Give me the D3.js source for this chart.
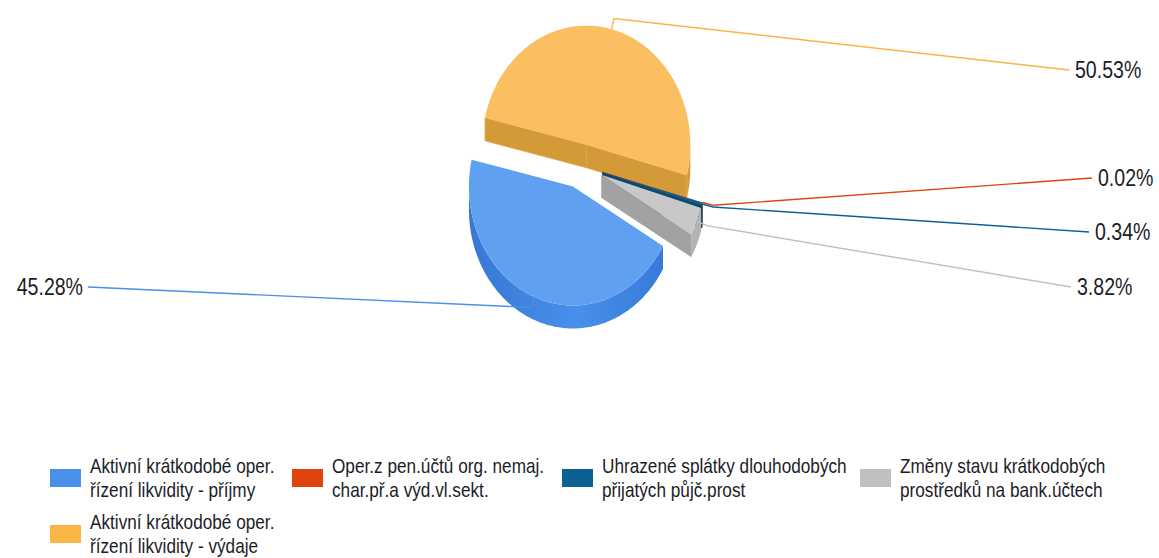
<!DOCTYPE html>
<html><head><meta charset="utf-8">
<script src="https://cdn.jsdelivr.net/npm/d3@7"></script>
<style>body{margin:0;background:#fff}svg{display:block}</style>
</head><body>
<svg id="chart" width="1159" height="558"></svg>
<script>
// ---- data ----
const categories = [
  "Aktivní krátkodobé oper. řízení likvidity - příjmy",
  "Aktivní krátkodobé oper. řízení likvidity - výdaje",
  "Oper.z pen.účtů org. nemaj. char.př.a výd.vl.sekt.",
  "Uhrazené splátky dlouhodobých přijatých půjč.prost",
  "Změny stavu krátkodobých prostředků na bank.účtech"
];
const legendLines = [
  ["Aktivní krátkodobé oper.", "řízení likvidity - příjmy"],
  ["Aktivní krátkodobé oper.", "řízení likvidity - výdaje"],
  ["Oper.z pen.účtů org. nemaj.", "char.př.a výd.vl.sekt."],
  ["Uhrazené splátky dlouhodobých", "přijatých půjč.prost"],
  ["Změny stavu krátkodobých", "prostředků na bank.účtech"]
];
const values = [45.28, 50.53, 0.02, 0.34, 3.82];
const valueLabels = ["45.28%", "50.53%", "0.02%", "0.34%", "3.82%"];
const legendColors = ["#4a8fe8", "#fbb446", "#e0440e", "#0b6192", "#c0c0c0"];
const topColors    = ["#60a0f0", "#fbbe60", "#e0440e", "#0b6192", "#c8c8c8"];
const wallColors   = ["#3c82de", "#d59a38", "#b83608", "#084a72", "#a2a2a2"];
const outerColors  = ["#3c82de", "#d59a38", "#c03a0a", "#09547e", "#b3b3b3"];

// ---- layout ----
const W = 1159, H = 558;
const cx = 581, cy = 166, rx = 104, ry = 119, depth = 23, explode = 22;
const startDeg = 120;
const labelEnds = [[88, 287], [1069, 70], [1092, 178], [1089, 232], [1071, 287]];
const legendPos = [[50, 469], [50, 525], [292, 469], [562, 469], [860, 469]];

const svg = d3.select("#chart");
const defs = svg.append("defs");
const g = defs.append("linearGradient").attr("id", "blueWall")
  .attr("gradientUnits", "userSpaceOnUse").attr("x1", 465).attr("x2", 670).attr("y1", 0).attr("y2", 0);
g.append("stop").attr("offset", "0").attr("stop-color", "#3677d2");
g.append("stop").attr("offset", "0.55").attr("stop-color", "#4790ec");
g.append("stop").attr("offset", "1").attr("stop-color", "#3579d6");

const pie = d3.pie().sort(null).value(d => d)
  .startAngle(startDeg * Math.PI / 180)
  .endAngle(startDeg * Math.PI / 180 + 2 * Math.PI);
const arcs = pie(values).map((a, i) => {
  const a0 = a.startAngle - Math.PI / 2, a1 = a.endAngle - Math.PI / 2;
  const m = (a0 + a1) / 2;
  const ax = cx + explode * Math.cos(m), ay = cy + explode * Math.sin(m);
  return {i, a0, a1, m, ax, ay};
});

const ePt = (s, a, dz = 0) => [s.ax + rx * Math.cos(a), s.ay + ry * Math.sin(a) + dz];
function arcPts(s, lo, hi, dz) {
  const n = Math.max(2, Math.ceil((hi - lo) / (Math.PI / 180)));
  return d3.range(n + 1).map(k => ePt(s, lo + (hi - lo) * k / n, dz));
}
const line = d3.line();
const pieG = svg.append("g");

const order = [1, 2, 3, 4, 0];
order.forEach(i => {
  const s = arcs[i];
  const gg = pieG.append("g");
  // outer wall
  for (let k = -1; k <= 2; k++) {
    const lo = Math.max(s.a0, 2 * k * Math.PI), hi = Math.min(s.a1, 2 * k * Math.PI + Math.PI);
    if (lo < hi) {
      const pts = arcPts(s, lo, hi, 0).concat(arcPts(s, lo, hi, depth).reverse());
      gg.append("path").attr("d", line(pts) + "Z")
        .attr("fill", i === 0 ? "url(#blueWall)" : outerColors[i]);
    }
  }
  // radial walls
  const walls = [];
  if (Math.cos(s.a0) < 0) walls.push(s.a0);
  if (Math.cos(s.a1) > 0) walls.push(s.a1);
  walls.forEach(a => {
    const p = ePt(s, a);
    const pts = [[s.ax, s.ay], p, [p[0], p[1] + depth], [s.ax, s.ay + depth]];
    gg.append("path").attr("d", line(pts) + "Z").attr("fill", wallColors[i])
      .attr("stroke", i === 1 ? "#e2a647" : "none").attr("stroke-width", 0.8);
  });
  // top face
  const top = [[s.ax, s.ay]].concat(arcPts(s, s.a0, s.a1, 0));
  gg.append("path").attr("d", line(top) + "Z").attr("fill", topColors[i]);
});

// leader lines + labels
const lblG = svg.append("g");
arcs.forEach((s, i) => {
  const p = ePt(s, s.m);
  const e = [p[0] + 11 * Math.cos(s.m), p[1] + 11 * Math.sin(s.m)];
  const end = labelEnds[i];
  lblG.append("path").attr("d", line([p, e, end])).attr("fill", "none")
    .attr("stroke", legendColors[i]).attr("stroke-width", 1.4);
  const left = end[0] < cx;
  lblG.append("text")
    .attr("transform", `translate(${left ? end[0] - 5 : end[0] + 6},${end[1] + 8}) scale(0.85,1)`)
    .attr("text-anchor", left ? "end" : "start")
    .attr("font-family", "Liberation Sans, Arial, sans-serif").attr("font-size", 23)
    .attr("fill", "#1c1c28").text(valueLabels[i]);
});

// legend
const legG = svg.append("g");
categories.forEach((c, i) => {
  const [x, y] = legendPos[i];
  legG.append("rect").attr("x", x).attr("y", y).attr("width", 31).attr("height", 18)
    .attr("fill", legendColors[i]);
  legendLines[i].forEach((t, j) => {
    legG.append("text")
      .attr("transform", `translate(${x + 40},${y + 4 + j * 24}) scale(0.86,1)`)
      .attr("font-family", "Liberation Sans, Arial, sans-serif").attr("font-size", 20)
      .attr("fill", "#1c1c28").text(t);
  });
});
</script>
</body></html>
